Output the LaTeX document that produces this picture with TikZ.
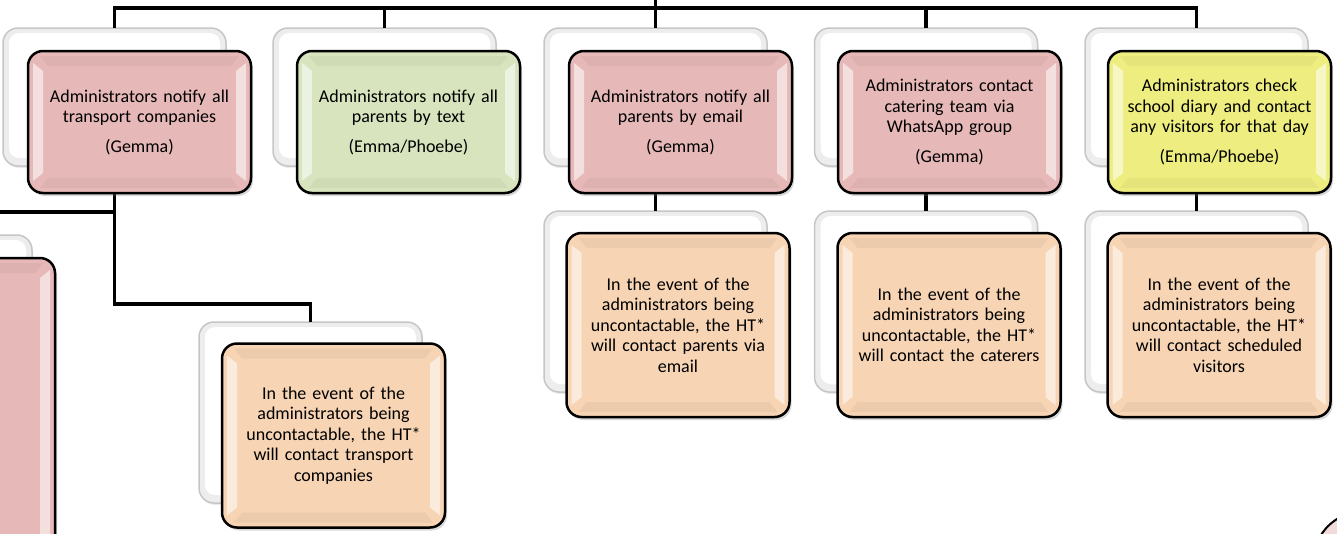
\documentclass[tikz,border=0pt]{standalone}
\usepackage{fontspec}
\setmainfont{Carlito}
\usetikzlibrary{shadows}
\definecolor{pinkc}{RGB}{230,185,184}
\definecolor{greenc}{RGB}{215,228,189}
\definecolor{yellowc}{RGB}{238,238,128}
\definecolor{peachc}{RGB}{246,212,180}
\definecolor{circc}{RGB}{242,220,219}
\tikzset{
  conn/.style={line width=3.5pt, draw=black},
  frontbox/.style={rectangle, rounded corners=15pt, draw=black, line width=2.5pt,
    minimum width=223pt, inner sep=0pt, outer sep=0pt, text width=215pt, align=center,
    font=\fontsize{18}{20.5}\selectfont,
    drop shadow={shadow xshift=2pt, shadow yshift=-3pt, opacity=0.3}},
  topbox/.style={frontbox, minimum height=142pt},
  subbox/.style={frontbox, minimum height=184pt},
  backbox/.style={rectangle, rounded corners=15pt, draw=gray!45, line width=1.5pt,
    fill=gray!14, minimum width=223pt, inner sep=0pt, outer sep=0pt,
    drop shadow={shadow xshift=1pt, shadow yshift=-2pt, opacity=0.15}},
  backtop/.style={backbox, minimum height=138pt},
  backsub/.style={backbox, minimum height=181pt},
  lightstrip/.style={fill=white, opacity=0.55},
  darkstrip/.style={fill=black, opacity=0.04},
}
\newcommand{\mybevel}[1]{%
  \fill[lightstrip] ([shift={(5,12)}]#1.north west) -- ([shift={(15,20)}]#1.north west)
     -- ([shift={(15,-20)}]#1.south west) -- ([shift={(5,-12)}]#1.south west) -- cycle;
  \fill[lightstrip] ([shift={(-5,12)}]#1.north east) -- ([shift={(-15,20)}]#1.north east)
     -- ([shift={(-15,-20)}]#1.south east) -- ([shift={(-5,-12)}]#1.south east) -- cycle;
  \fill[darkstrip] ([shift={(12,5)}]#1.north west) -- ([shift={(-12,5)}]#1.north east)
     -- ([shift={(-20,15)}]#1.north east) -- ([shift={(20,15)}]#1.north west) -- cycle;
  \fill[darkstrip] ([shift={(12,-5)}]#1.south west) -- ([shift={(-12,-5)}]#1.south east)
     -- ([shift={(-20,-15)}]#1.south east) -- ([shift={(20,-15)}]#1.south west) -- cycle;
}
\newcommand{\mybackfill}[1]{%
  \fill[white, rounded corners=10pt] ([shift={(6,5)}]#1.north west) rectangle ([shift={(-6,-8)}]#1.south east);
}
\begin{document}
\begin{tikzpicture}[x=1pt, y=-1pt]
\useasboundingbox (0,0) rectangle (1337,533);
\clip (0,0) rectangle (1337,533);

% back boxes (top row)
\node[backtop] (b1) at (114.5,97) {};
\node[backtop] (b2) at (384.5,97) {};
\node[backtop] (b3) at (655.5,97) {};
\node[backtop] (b4) at (926,97) {};
\node[backtop] (b5) at (1196.5,97) {};
% back boxes (second row)
\node[backsub] (sb1) at (310.5,412.5) {};
\node[backsub] (sb3) at (655.5,301.5) {};
\node[backsub] (sb4) at (926,301.5) {};
\node[backsub] (sb5) at (1196.5,301.5) {};
% left partial box (back)
\node[backbox, minimum height=342pt] (lbb) at (-79.5,406) {};
\mybackfill{b1}\mybackfill{b2}\mybackfill{b3}\mybackfill{b4}\mybackfill{b5}
\mybackfill{sb1}\mybackfill{sb3}\mybackfill{sb4}\mybackfill{sb5}\mybackfill{lbb}

% connectors
\coordinate (root) at (655.5,-5);
\coordinate (bus) at (655.5,8);
\coordinate (k1) at (0,304);
\coordinate (kl) at (0,212);
\draw[conn] (root) -- (b3.north);
\draw[conn] (b1.north) |- (bus) -| (b5.north);
\draw[conn] (b2.north) -- (b2.north |- bus);
\draw[conn] (b4.north) -- (b4.north |- bus);
\draw[conn] (b1.south) -- (b1.south |- k1) -| (sb1.north);
\draw[conn] (b1.south |- kl) -| (lbb.north);
\draw[conn] (b3.south) -- (sb3.north);
\draw[conn] (b4.south) -- (sb4.north);
\draw[conn] (b5.south) -- (sb5.north);

% front boxes (top row)
\node[topbox, fill=pinkc] (f1) at (139.5,122) {Administrators notify all\\transport companies\\[9pt](Gemma)};
\node[topbox, fill=greenc] (f2) at (408.5,122) {Administrators notify all\\parents by text\\[9pt](Emma/Phoebe)};
\node[topbox, fill=pinkc] (f3) at (680.5,122) {Administrators notify all\\parents by email\\[9pt](Gemma)};
\node[topbox, fill=pinkc] (f4) at (949.5,122) {Administrators contact\\catering team via\\WhatsApp group\\[9pt](Gemma)};
\node[topbox, fill=yellowc] (f5) at (1219.5,122) {Administrators check\\school diary and contact\\any visitors for that day\\[9pt](Emma/Phoebe)};
% front boxes (second row)
\node[subbox, fill=peachc] (sf1) at (333.5,435.5) {In the event of the\\administrators being\\uncontactable, the HT*\\will contact transport\\companies};
\node[subbox, fill=peachc] (sf3) at (678,325) {In the event of the\\administrators being\\uncontactable, the HT*\\will contact parents via\\email};
\node[subbox, fill=peachc] (sf4) at (949,325) {In the event of the\\administrators being\\uncontactable, the HT*\\will contact the caterers};
\node[subbox, fill=peachc] (sf5) at (1219,325) {In the event of the\\administrators being\\uncontactable, the HT*\\will contact scheduled\\visitors};
% left partial box (front)
\node[frontbox, fill=pinkc, minimum height=342pt] (lf) at (-56.5,429) {};

\mybevel{f1}\mybevel{f2}\mybevel{f3}\mybevel{f4}\mybevel{f5}
\mybevel{sf1}\mybevel{sf3}\mybevel{sf4}\mybevel{sf5}\mybevel{lf}

% circle bottom right
\node[circle, draw=black, line width=2pt, fill=circc, minimum size=96pt, inner sep=0pt] (circ) at (1362,560) {};
\end{tikzpicture}
\end{document}
